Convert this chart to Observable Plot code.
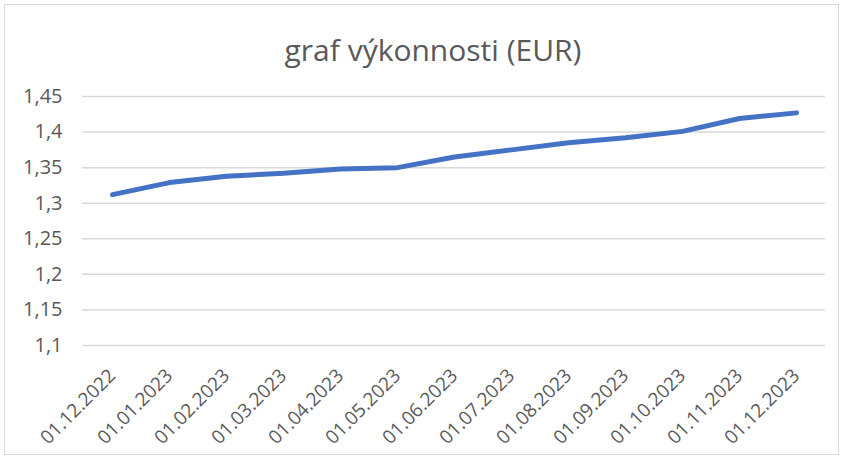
<!DOCTYPE html>
<html>
<head>
<meta charset="utf-8">
<script src="https://cdn.jsdelivr.net/npm/d3@7"></script>
<script src="https://cdn.jsdelivr.net/npm/@observablehq/plot@0.6"></script>
<style>
  html, body { margin: 0; padding: 0; background: #fff; }
  #frame { position: absolute; left: 4px; top: 4px; width: 835px; height: 451px; border: 1.5px solid #d9d9d9; box-sizing: border-box; }
  #title { position: absolute; left: 0; top: 35px; width: 866px; text-align: center; font-family: "Open Sans", sans-serif; font-size: 30px; color: #595959; line-height: 1; }
  #chart { position: absolute; left: 0; top: 80px; }
</style>
</head>
<body>
<div id="frame"></div>
<div id="title">graf výkonnosti (EUR)</div>
<div id="chart"></div>
<script>
const dates = ["01.12.2022","01.01.2023","01.02.2023","01.03.2023","01.04.2023","01.05.2023","01.06.2023","01.07.2023","01.08.2023","01.09.2023","01.10.2023","01.11.2023","01.12.2023"];
const values = [1.312, 1.329, 1.338, 1.342, 1.348, 1.350, 1.365, 1.375, 1.385, 1.392, 1.401, 1.419, 1.427];
const yTicks = [1.1, 1.15, 1.2, 1.25, 1.3, 1.35, 1.4, 1.45];

const data = dates.map((d, i) => ({date: d, value: values[i]}));
const fmt = v => String(v).replace(".", ",");

const chart = Plot.plot({
  width: 843,
  height: 380,
  marginLeft: 82,
  marginRight: 18,
  marginTop: 16,
  marginBottom: 115,
  style: { fontFamily: "'Open Sans', sans-serif", fontSize: "19px", color: "#595959", background: "transparent", overflow: "visible" },
  x: { type: "point", domain: dates, padding: 0.5, label: null },
  y: { domain: [1.1, 1.45], label: null },
  marks: [
    Plot.ruleY(yTicks, { stroke: "#d9d9d9", strokeWidth: 1.5 }),
    Plot.axisY(yTicks, { tickFormat: fmt, tickSize: 0, tickPadding: 20, label: null, fontSize: 20 }),
    Plot.axisX({ tickRotate: -45, tickSize: 0, tickPadding: 27, label: null, fontSize: 19 }),
    Plot.line(data, { x: "date", y: "value", stroke: "#4472C4", strokeWidth: 5, strokeLinejoin: "round", strokeLinecap: "round" })
  ]
});
document.getElementById("chart").appendChild(chart);
</script>
</body>
</html>
